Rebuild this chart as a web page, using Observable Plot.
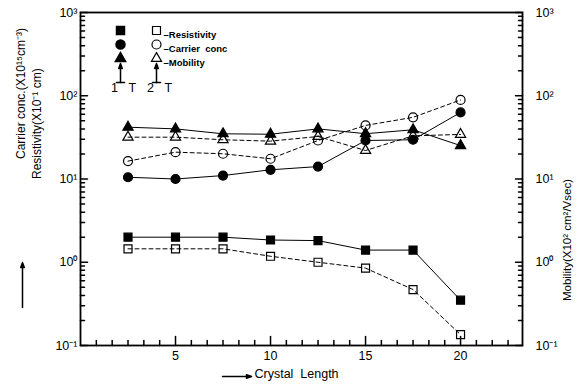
<!DOCTYPE html>
<html><head><meta charset="utf-8">
<script src="https://cdn.jsdelivr.net/npm/d3@7"></script>
<script src="https://cdn.jsdelivr.net/npm/@observablehq/plot@0.6"></script>
<style>
body{margin:0;background:#fff}
svg{font-family:"Liberation Sans",Arial,sans-serif}
</style>
</head><body><div id="chart"></div>
<script>
// ---- data ----
const crystalLength = [2.5, 5, 7.5, 10, 12.5, 15, 17.5, 20];
const resistivity1T = [2.0, 2.0, 2.0, 1.85, 1.82, 1.4, 1.4, 0.35];
const resistivity2T = [1.45, 1.45, 1.45, 1.18, 1.0, 0.85, 0.47, 0.135];
const carrier1T = [10.5, 10, 11, 12.9, 14.1, 29, 29.6, 63];
const carrier2T = [16.4, 21, 20.1, 17.5, 29, 44, 55, 89];
const mobility1T = [41.9, 40, 34.9, 34.5, 40, 35, 39, 25.2];
const mobility2T = [31.8, 31.8, 29.6, 28.5, 32.4, 22, 33, 34.3];
const yTicks = [0.1, 1, 10, 100, 1000];
const yTickLabels = ["10⁻¹", "10⁰", "10¹", "10²", "10³"];
const xTicks = [5, 10, 15, 20];
const xTickLabels = ["5", "10", "15", "20"];
const xMinorStep = 5 / 6;
const legendNames = ["Resistivity", "Carrier  conc", "Mobility"];

const series = [
  {values: resistivity1T, symbol: "square", filled: true},
  {values: resistivity2T, symbol: "square", filled: false},
  {values: carrier1T, symbol: "circle", filled: true},
  {values: carrier2T, symbol: "circle", filled: false},
  {values: mobility1T, symbol: "triangle", filled: true},
  {values: mobility2T, symbol: "triangle", filled: false}
].map(s => ({...s, rows: crystalLength.map((x, i) => ({x, y: s.values[i]}))}));

const yMinor = [];
for (const d of [0.1, 1, 10, 100]) for (let k = 2; k <= 9; k++) yMinor.push(d * k);
const xMinor = d3.range(1, 28).map(i => i * xMinorStep).filter(v => v < 23.2 && !xTicks.some(t => Math.abs(t - v) < 1e-6));

const tickShape = {draw(ctx, l) { ctx.moveTo(0, 0); ctx.lineTo(0, -l); }};
const arrowShape = {draw(ctx, l) {
  ctx.moveTo(0, 0); ctx.lineTo(0, -l + 4);
  ctx.moveTo(-1.8, -l + 5); ctx.lineTo(0, -l); ctx.lineTo(1.8, -l + 5); ctx.closePath();
}};
const symR = {square: 4.5, circle: 4.5, triangle: 3.8};

const marks = [];
marks.push(Plot.frame({stroke: "black", strokeWidth: 1.8}));
// ticks
marks.push(Plot.vector(yTicks, {y: d => d, frameAnchor: "left", rotate: 90, length: 7, anchor: "start", shape: tickShape, stroke: "black"}));
marks.push(Plot.vector(yMinor, {y: d => d, frameAnchor: "left", rotate: 90, length: 4, anchor: "start", shape: tickShape, stroke: "black"}));
marks.push(Plot.vector(yTicks, {y: d => d, frameAnchor: "right", rotate: -90, length: 7, anchor: "start", shape: tickShape, stroke: "black"}));
marks.push(Plot.vector(yMinor, {y: d => d, frameAnchor: "right", rotate: -90, length: 4, anchor: "start", shape: tickShape, stroke: "black"}));
marks.push(Plot.vector(xTicks, {x: d => d, frameAnchor: "bottom", rotate: 0, length: 9, anchor: "start", shape: tickShape, stroke: "black"}));
marks.push(Plot.vector(xMinor, {x: d => d, frameAnchor: "bottom", rotate: 0, length: 5, anchor: "start", shape: tickShape, stroke: "black"}));
// tick labels
marks.push(Plot.text(yTicks, {y: d => d, text: (d, i) => yTickLabels[i], frameAnchor: "left", dx: -3, textAnchor: "end", fontSize: 12.5}));
marks.push(Plot.text(yTicks, {y: d => d, text: (d, i) => yTickLabels[i], frameAnchor: "right", dx: 13, textAnchor: "start", fontSize: 12.5}));
marks.push(Plot.text(xTicks, {x: d => d, text: (d, i) => xTickLabels[i], frameAnchor: "bottom", dy: 14, fontSize: 12.5}));
// axis titles
marks.push(Plot.text(["Carrier conc.(X10¹⁵cm⁻³)"], {text: d => d, frameAnchor: "left", dx: -59, dy: -20, rotate: -90, fontSize: 12, letterSpacing: "0.6px"}));
marks.push(Plot.text(["Resistivity(X10⁻¹ cm)"], {text: d => d, frameAnchor: "left", dx: -43, dy: 0, rotate: -90, fontSize: 12, letterSpacing: "0.4px"}));
marks.push(Plot.text(["Mobility(X10² cm²/Vsec)"], {text: d => d, frameAnchor: "right", dx: 45, dy: 0, rotate: -90, fontSize: 11.5, letterSpacing: "0.5px"}));
marks.push(Plot.vector([0], {frameAnchor: "bottom-left", dx: -58, dy: -38, rotate: 0, length: 45, anchor: "start", shape: arrowShape, stroke: "black", fill: "black"}));
marks.push(Plot.text(["Crystal  Length"], {text: d => d, frameAnchor: "bottom", dx: -47, dy: 32, textAnchor: "start", fontSize: 12.5, letterSpacing: "0.4px"}));
marks.push(Plot.vector([0], {frameAnchor: "bottom", dx: -79, dy: 31, rotate: 90, length: 29, anchor: "start", shape: arrowShape, stroke: "black", fill: "black"}));

// data lines and markers
for (const s of series) {
  marks.push(Plot.line(s.rows, {x: "x", y: "y", stroke: "black", strokeWidth: 1, strokeDasharray: s.filled ? null : "4,3"}));
}
for (const s of series) {
  marks.push(Plot.dot(s.rows, {x: "x", y: "y", symbol: s.symbol, r: symR[s.symbol], fill: s.filled ? "black" : "none", stroke: "black", strokeWidth: 1.2}));
}

// legend
const symbols = ["square", "circle", "triangle"];
symbols.forEach((sym, i) => {
  marks.push(Plot.dot([0], {frameAnchor: "top-left", dx: 40, dy: 18 + 14 * i, symbol: sym, r: symR[sym], fill: "black", stroke: "black"}));
  marks.push(Plot.dot([0], {frameAnchor: "top-left", dx: 76, dy: 18 + 14 * i, symbol: sym, r: symR[sym], fill: "none", stroke: "black", strokeWidth: 1.2}));
  marks.push(Plot.text([legendNames[i]], {text: d => "–" + d, frameAnchor: "top-left", dx: 83, dy: 19 + 14 * i, textAnchor: "start", fontSize: 9.5, fontWeight: "bold", letterSpacing: "0.5px"}));
});
[[40, "1"], [76, "2"]].forEach(([dx, lab]) => {
  marks.push(Plot.vector([0], {frameAnchor: "top-left", dx, dy: 70, rotate: 0, length: 19, anchor: "start", shape: arrowShape, stroke: "black", fill: "black"}));
  marks.push(Plot.vector([0], {frameAnchor: "top-left", dx: dx - 4, dy: 70, rotate: 90, length: 8, anchor: "start", shape: tickShape, stroke: "black"}));
  marks.push(Plot.text([lab], {text: d => d, frameAnchor: "top-left", dx: dx - 9.5, dy: 71, fontSize: 12.5}));
  marks.push(Plot.text(["T"], {text: d => d, frameAnchor: "top-left", dx: dx + 8, dy: 71, fontSize: 12.5}));
});

const chart = Plot.plot({
  width: 585, height: 389,
  marginLeft: 80, marginRight: 63, marginTop: 12, marginBottom: 44,
  x: {domain: [0, 23.26], axis: null},
  y: {type: "log", domain: [0.1, 1000], axis: null},
  style: {fontFamily: "'Liberation Sans', Arial, sans-serif", background: "white", color: "black"},
  marks
});
document.getElementById("chart").appendChild(chart);
</script>
</body></html>
